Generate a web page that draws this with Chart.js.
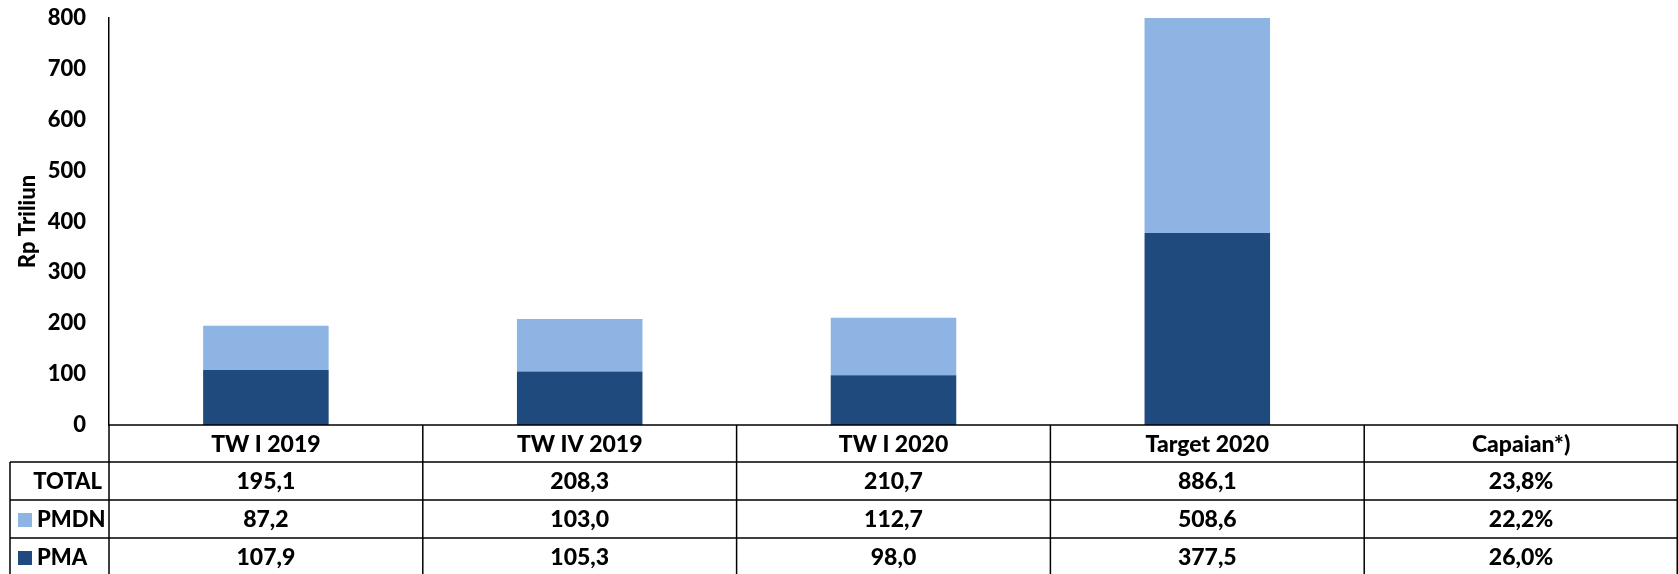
<!DOCTYPE html>
<html>
<head>
<meta charset="utf-8">
<script src="https://cdn.jsdelivr.net/npm/chart.js@4.4.1/dist/chart.umd.min.js"></script>
<style>
  html, body { margin: 0; padding: 0; background: #ffffff; }
  canvas { display: block; }
</style>
</head>
<body>
<canvas id="c" width="1678" height="574"></canvas>
<script>
// ---- data ----
const categories = ["TW I 2019", "TW IV 2019", "TW I 2020", "Target 2020", "Capaian*)"];
const pma   = [107.9, 105.3, 98.0, 377.5, null];
const pmdn  = [87.2, 103.0, 112.7, 508.6, null];
const total = [195.1, 208.3, 210.7, 886.1, null];
// Capaian*) column (percent): TOTAL, PMDN, PMA
const capaianTotal = 23.8;
const capaianPmdn  = 22.2;
const capaianPma   = 26.0;
const rowLabels = ["TOTAL", "PMDN", "PMA"];
const yMin = 0, yMax = 800, yStep = 100;
const yTitle = "Rp Triliun";

const COL_PMA = "#1F4A7E";
const COL_PMDN = "#8EB4E3";
const FONT = "Lato, 'Open Sans', 'Liberation Sans', sans-serif";
const FSIZE = 22;
const TSIZE = 23;
const RSIZE = 22;

function fmt(v) { return v.toFixed(1).replace('.', ','); }
function pct(v) { return v.toFixed(1).replace('.', ',') + '%'; }

const tableRows = [
  { label: rowLabels[0], color: null,     values: total, cap: capaianTotal },
  { label: rowLabels[1], color: COL_PMDN, values: pmdn,  cap: capaianPmdn },
  { label: rowLabels[2], color: COL_PMA,  values: pma,   cap: capaianPma }
];

const tablePlugin = {
  id: 'dataTable',
  afterDraw(chart) {
    const ctx = chart.ctx;
    const xs = chart.scales.x;
    const area = chart.chartArea;
    const n = categories.length;
    const colW = (area.right - area.left) / n;
    const top = area.bottom;
    const rowH = 38;
    const headH = 37;
    const tableLeft = 10;
    ctx.save();
    ctx.strokeStyle = '#000';
    ctx.lineWidth = 1.5;
    const hLines = [top, top + headH, top + headH + rowH, top + headH + 2 * rowH, top + headH + 3 * rowH];
    ctx.beginPath();
    ctx.moveTo(area.left, hLines[0]); ctx.lineTo(area.right, hLines[0]);
    for (let k = 1; k < hLines.length; k++) {
      ctx.moveTo(tableLeft, hLines[k]); ctx.lineTo(area.right, hLines[k]);
    }
    ctx.moveTo(tableLeft, hLines[1]); ctx.lineTo(tableLeft, hLines[4]);
    for (let i = 0; i <= n; i++) {
      const x = Math.min(area.left + i * colW, area.right - 0.75);
      ctx.moveTo(x, top); ctx.lineTo(x, hLines[4]);
    }
    ctx.stroke();

    ctx.fillStyle = '#000';
    ctx.font = "900 " + TSIZE + "px " + FONT;
    ctx.textAlign = 'center';
    ctx.textBaseline = 'middle';
    for (let i = 0; i < n; i++) {
      const cx = xs.getPixelForValue(i);
      ctx.fillText(categories[i], cx, (hLines[0] + hLines[1]) / 2 + 1);
    }
    tableRows.forEach((r, k) => {
      const cy = (hLines[k + 1] + hLines[k + 2]) / 2 + 1;
      ctx.font = "900 " + TSIZE + "px " + FONT;
      ctx.textAlign = 'center';
      for (let i = 0; i < n; i++) {
        const cx = xs.getPixelForValue(i);
        const v = r.values[i];
        const txt = (v === null || v === undefined) ? pct(r.cap) : fmt(v);
        ctx.fillStyle = '#000';
        ctx.fillText(txt, cx, cy);
      }
      ctx.font = "900 " + RSIZE + "px " + FONT;
      if (r.color) {
        ctx.fillStyle = r.color;
        ctx.fillRect(18, cy - 7, 14, 14);
        ctx.fillStyle = '#000';
        ctx.textAlign = 'left';
        ctx.fillText(r.label, 37, cy);
      } else {
        ctx.textAlign = 'right';
        ctx.fillText(r.label, 102, cy);
      }
    });
    ctx.restore();
  }
};

new Chart(document.getElementById('c'), {
  type: 'bar',
  data: {
    labels: categories,
    datasets: [
      { label: 'PMA', data: pma, backgroundColor: COL_PMA, borderWidth: 0, stack: 's' },
      { label: 'PMDN', data: pmdn, backgroundColor: COL_PMDN, borderWidth: 0, stack: 's' }
    ]
  },
  options: {
    responsive: false,
    animation: false,
    events: [],
    layout: { padding: { left: 0, right: 0, top: 18, bottom: 149 } },
    plugins: { legend: { display: false }, tooltip: { enabled: false } },
    datasets: { bar: { barPercentage: 0.4, categoryPercentage: 1.0 } },
    scales: {
      x: {
        display: false,
        stacked: true,
        offset: true
      },
      y: {
        stacked: true,
        min: yMin,
        max: yMax,
        afterFit(scale) {
          scale.width = 109;
          scale.paddingTop = 0;
          scale.paddingBottom = 0;
        },
        grid: { display: false, drawTicks: false },
        border: { display: true, color: '#000', width: 1.5 },
        ticks: {
          stepSize: yStep,
          padding: 23,
          color: '#000',
          font: { family: FONT, size: FSIZE, weight: '900' }
        },
        title: {
          display: true,
          text: yTitle,
          color: '#000',
          padding: { top: 15, bottom: 0 },
          font: { family: FONT, size: 22, weight: '900' }
        }
      }
    }
  },
  plugins: [tablePlugin]
});
</script>
</body>
</html>
